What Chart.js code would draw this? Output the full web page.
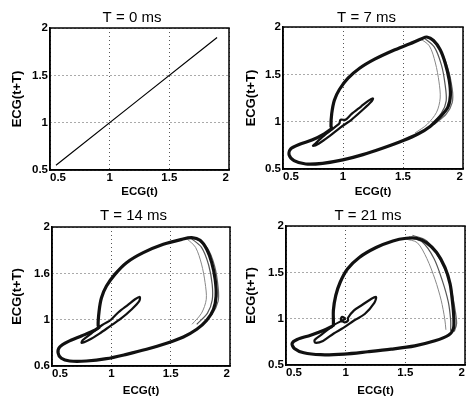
<!DOCTYPE html>
<html>
<head>
<meta charset="utf-8">
<script src="https://cdn.jsdelivr.net/npm/chart.js@4/dist/chart.umd.min.js"></script>
<style>
  body { margin: 0; background: #fff; width: 469px; height: 398px; position: relative; overflow: hidden; }
  canvas { position: absolute; }
</style>
</head>
<body>
<canvas id="c0"></canvas>
<canvas id="c1"></canvas>
<canvas id="c2"></canvas>
<canvas id="c3"></canvas>
<script>
// panel titles and tick labels, as printed
const titles = ['T = 0 ms', 'T = 7 ms', 'T = 14 ms', 'T = 21 ms'];
const xTickLabels = ['0.5', '1', '1.5', '2'];
const yTickLabels = [
    ['0.5', '1', '1.5', '2'],
    ['0.5', '1', '1.5', '2'],
    ['0.6', '1', '1.6', '2'],
    ['0.5', '1', '1.5', '2']
];

// T = 0 : ECG(t) against itself
const lag0Line = [[0.55, 0.55], [1.90, 1.90]];

// T = 7 ms
const lag7Loop = [[0.91, 0.93], [0.90, 0.95], [0.906, 1.085], [0.928, 1.227], [0.97, 1.34], [1.04, 1.457],
    [1.138, 1.564], [1.264, 1.66], [1.418, 1.752], [1.558, 1.823], [1.656, 1.876], [1.698, 1.894],
    [1.754, 1.858], [1.81, 1.759], [1.852, 1.617], [1.885, 1.44], [1.895, 1.28], [1.875, 1.156],
    [1.81, 1.05], [1.726, 0.95], [1.628, 0.872], [1.502, 0.801], [1.334, 0.723], [1.166, 0.652],
    [0.998, 0.596], [0.83, 0.56], [0.69, 0.553], [0.592, 0.589], [0.55, 0.652], [0.564, 0.713],
    [0.634, 0.759], [0.746, 0.809], [0.844, 0.872], [0.91, 0.93]];
const lag7Wave = [[0.97, 0.98], [0.98, 1.02], [1.02, 1.02], [1.07, 1.08], [1.15, 1.16], [1.21, 1.22],
    [1.25, 1.245], [1.235, 1.21], [1.16, 1.12], [1.07, 1.02], [0.98, 0.94], [0.89, 0.85], [0.80, 0.77],
    [0.75, 0.745], [0.77, 0.77], [0.84, 0.85], [0.92, 0.93], [0.97, 0.98]];
const lag7SpreadA = [[1.64, 1.88], [1.72, 1.80], [1.77, 1.62], [1.80, 1.42], [1.81, 1.25], [1.78, 1.10], [1.70, 0.97], [1.60, 0.88]];
const lag7SpreadB = [[1.67, 1.89], [1.76, 1.79], [1.82, 1.60], [1.85, 1.40], [1.86, 1.22], [1.82, 1.09], [1.74, 0.98]];
const lag7SpreadC = [[1.70, 1.90], [1.80, 1.78], [1.87, 1.58], [1.91, 1.35], [1.91, 1.20], [1.86, 1.08], [1.76, 0.97]];

// T = 14 ms
const lag14Loop = [[0.903, 0.921], [0.889, 0.932], [0.897, 1.094], [0.917, 1.237], [0.959, 1.363], [1.03, 1.489],
    [1.128, 1.615], [1.269, 1.723], [1.438, 1.813], [1.593, 1.867], [1.677, 1.885], [1.748, 1.856],
    [1.804, 1.759], [1.846, 1.615], [1.875, 1.435], [1.883, 1.255], [1.861, 1.112], [1.804, 0.993],
    [1.72, 0.896], [1.607, 0.813], [1.466, 0.745], [1.297, 0.68], [1.128, 0.626], [0.959, 0.579],
    [0.79, 0.554], [0.649, 0.554], [0.579, 0.583], [0.551, 0.644], [0.565, 0.705], [0.635, 0.763],
    [0.748, 0.824], [0.846, 0.878], [0.903, 0.921]];
const lag14Wave = [[0.99, 0.99], [1.06, 1.08], [1.14, 1.16], [1.20, 1.22], [1.24, 1.245], [1.235, 1.20],
    [1.17, 1.11], [1.08, 1.01], [0.99, 0.93], [0.90, 0.85], [0.81, 0.78], [0.75, 0.75], [0.76, 0.78],
    [0.83, 0.85], [0.92, 0.94], [0.99, 0.99]];
const lag14SpreadA = [[1.64, 1.87], [1.71, 1.78], [1.76, 1.60], [1.79, 1.40], [1.80, 1.22], [1.76, 1.07], [1.68, 0.95]];
const lag14SpreadB = [[1.67, 1.88], [1.76, 1.78], [1.82, 1.59], [1.85, 1.38], [1.85, 1.21], [1.81, 1.07], [1.72, 0.95]];
const lag14SpreadC = [[1.70, 1.89], [1.81, 1.77], [1.87, 1.58], [1.90, 1.35], [1.90, 1.20], [1.85, 1.06], [1.77, 0.95]];

// T = 21 ms
const lag21Loop = [[0.889, 0.918], [0.897, 0.929], [0.897, 1.089], [0.917, 1.25], [0.954, 1.393], [1.015, 1.536],
    [1.114, 1.661], [1.255, 1.768], [1.396, 1.839], [1.508, 1.868], [1.593, 1.868], [1.677, 1.821],
    [1.762, 1.714], [1.832, 1.554], [1.875, 1.375], [1.894, 1.196], [1.906, 1.018], [1.903, 0.893],
    [1.861, 0.821], [1.748, 0.761], [1.579, 0.707], [1.382, 0.671], [1.185, 0.643], [0.987, 0.618],
    [0.79, 0.611], [0.649, 0.632], [0.57, 0.679], [0.551, 0.732], [0.593, 0.775], [0.706, 0.821],
    [0.818, 0.875], [0.889, 0.918]];
const lag21Wave = [[1.00, 1.00], [0.97, 1.02], [0.96, 0.99], [0.99, 0.96], [1.02, 0.98], [1.02, 1.01],
    [1.07, 1.09], [1.14, 1.15], [1.21, 1.21], [1.255, 1.235], [1.24, 1.17], [1.16, 1.05], [1.07, 0.98],
    [0.98, 0.90], [0.90, 0.84], [0.81, 0.76], [0.745, 0.74], [0.74, 0.77], [0.80, 0.83], [0.90, 0.93], [1.00, 1.00]];
const lag21SpreadA = [[1.50, 1.86], [1.60, 1.82], [1.68, 1.65], [1.75, 1.42], [1.80, 1.20], [1.83, 1.00], [1.84, 0.88]];
const lag21SpreadB = [[1.53, 1.88], [1.64, 1.83], [1.74, 1.65], [1.81, 1.41], [1.86, 1.18], [1.88, 0.98], [1.88, 0.87]];
const lag21SpreadC = [[1.56, 1.90], [1.68, 1.84], [1.79, 1.64], [1.87, 1.40], [1.91, 1.15], [1.93, 0.95], [1.91, 0.86]];

// where each panel sits on the page: canvas box and plot box [left, top, right, bottom]
const frames = [
    {left: 0, top: 0, width: 264, height: 199, plot: [50, 28, 229, 170], titlePad: [8.5, 1.5]},
    {left: 234, top: 0, width: 265, height: 199, plot: [283, 27, 463, 169], titlePad: [8.5, 0.5]},
    {left: 0, top: 199, width: 267, height: 199, plot: [52, 227, 230, 366], titlePad: [7.5, 2.5]},
    {left: 234, top: 199, width: 268, height: 199, plot: [286, 226, 465, 365], titlePad: [7.5, 1.5]}
];

const series = [
    [{pts: lag0Line, w: 1.2, c: '#000'}],
    [{pts: lag7Loop, w: 3.2, c: '#111'}, {pts: lag7Wave, w: 2.2, c: '#111'},
     {pts: lag7SpreadA, w: 1, c: '#888'}, {pts: lag7SpreadB, w: 1.2, c: '#555'}, {pts: lag7SpreadC, w: 1.2, c: '#666'}],
    [{pts: lag14Loop, w: 3.2, c: '#111'}, {pts: lag14Wave, w: 2.2, c: '#111'},
     {pts: lag14SpreadA, w: 1, c: '#888'}, {pts: lag14SpreadB, w: 1.2, c: '#555'}, {pts: lag14SpreadC, w: 1.2, c: '#666'}],
    [{pts: lag21Loop, w: 3.2, c: '#111'}, {pts: lag21Wave, w: 2.2, c: '#111'},
     {pts: lag21SpreadA, w: 1, c: '#888'}, {pts: lag21SpreadB, w: 1.2, c: '#555'}, {pts: lag21SpreadC, w: 1.2, c: '#666'}]
];

const FONT = '"Liberation Sans", Arial, Helvetica, sans-serif';

const frameBox = {
    id: 'frameBox',
    afterDatasetsDraw(chart) {
        const {ctx, chartArea: a} = chart;
        ctx.save();
        ctx.strokeStyle = '#000';
        ctx.lineWidth = 1.5;
        ctx.strokeRect(a.left, a.top, a.right - a.left, a.bottom - a.top);
        ctx.restore();
    }
};

frames.forEach(function(f, k) {
    const canvas = document.getElementById('c' + k);
    canvas.width = f.width;
    canvas.height = f.height;
    canvas.style.left = f.left + 'px';
    canvas.style.top = f.top + 'px';

    const [pl, pt, pr, pb] = f.plot;
    const tickFont = {family: FONT, size: 11.5, weight: 'bold'};

    const datasets = series[k].map(s => ({
        data: s.pts.map(p => ({x: p[0], y: p[1]})),
        showLine: true,
        borderColor: s.c,
        borderWidth: s.w,
        pointRadius: 0,
        tension: 0.3,
        fill: false
    }));

    new Chart(canvas.getContext('2d'), {
        type: 'scatter',
        data: {datasets: datasets},
        options: {
            responsive: false,
            animation: false,
            devicePixelRatio: 1,
            layout: {padding: 0},
            plugins: {
                legend: {display: false},
                tooltip: {enabled: false},
                title: {
                    display: true,
                    text: titles[k],
                    color: '#000',
                    font: {family: FONT, size: 15, weight: 'normal'},
                    padding: {top: f.titlePad[0], bottom: f.titlePad[1]}
                }
            },
            scales: {
                x: {
                    type: 'linear', position: 'bottom', min: 0.5, max: 2,
                    afterFit: s => { s.height = f.top + f.height - pb; },
                    ticks: {
                        stepSize: 0.5, align: 'inner', padding: 1, color: '#000', font: tickFont,
                        maxRotation: 0, autoSkip: false,
                        callback: (v, i) => xTickLabels[i]
                    },
                    grid: {color: '#555', lineWidth: 1, drawTicks: false},
                    border: {display: true, color: '#000', width: 1.5, dash: [1, 3]},
                    title: {
                        display: true, text: 'ECG(t)', color: '#000',
                        font: {family: FONT, size: 11.5, weight: 'bold'},
                        padding: {top: 2.4, bottom: 0}
                    }
                },
                y: {
                    type: 'linear', position: 'left', min: 0.5, max: 2,
                    afterFit: s => { s.width = pl - f.left; },
                    ticks: {
                        stepSize: 0.5, padding: 2, color: '#000', font: tickFont, autoSkip: false,
                        callback: (v, i) => yTickLabels[k][i]
                    },
                    grid: {color: '#555', lineWidth: 1, drawTicks: false},
                    border: {display: true, color: '#000', width: 1.5, dash: [1, 3]},
                    title: {
                        display: true, text: 'ECG(t+T)', color: '#000',
                        font: {family: FONT, size: 13, weight: 'bold'},
                        padding: {top: 10, bottom: 0}
                    }
                },
                y2: {
                    type: 'linear', position: 'right', min: 0.5, max: 2,
                    afterFit: s => { s.width = f.left + f.width - pr; },
                    ticks: {display: false},
                    grid: {display: false, drawTicks: false},
                    border: {display: false}
                }
            }
        },
        plugins: [frameBox]
    });
});
</script>
</body>
</html>
